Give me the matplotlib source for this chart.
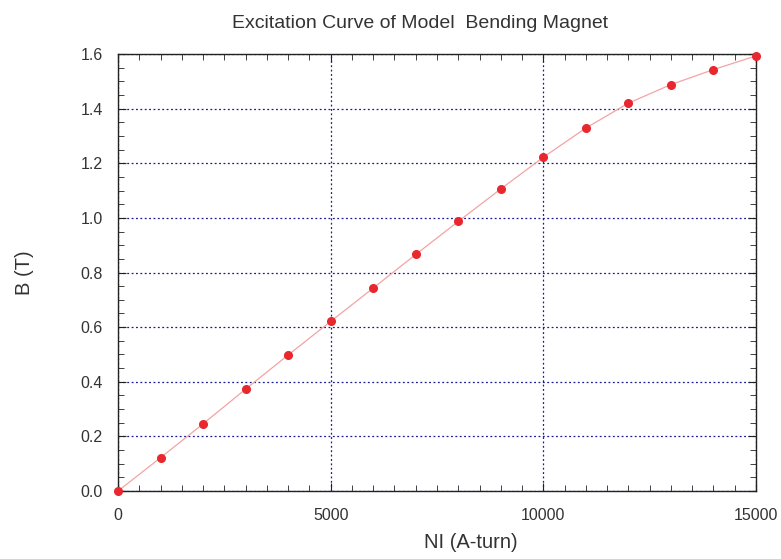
import matplotlib
matplotlib.use("Agg")
import matplotlib.pyplot as plt
from matplotlib.ticker import MultipleLocator

# excitation curve data
ni = [0, 1000, 2000, 3000, 4000, 5000, 6000, 7000, 8000, 9000,
      10000, 11000, 12000, 13000, 14000, 15000]
b_field = [0.0, 0.122, 0.246, 0.373, 0.498, 0.621, 0.743, 0.866, 0.987, 1.106,
           1.222, 1.329, 1.420, 1.488, 1.543, 1.593]

plt.rcParams["font.family"] = ["Liberation Sans", "DejaVu Sans"]

fig = plt.figure(figsize=(7.81, 5.59), dpi=100)
ax = fig.add_axes([0.1511, 0.1216, 0.8169, 0.7818])

ax.plot(ni, b_field, color="#f5a3a3", lw=0.9, zorder=3)
ax.plot(ni, b_field, "o", color="#e8282e", ms=5.5, mec="#e8282e", zorder=4, clip_on=False)

ax.set_xlim(0, 15000)
ax.set_ylim(0, 1.6)
ax.xaxis.set_major_locator(MultipleLocator(5000))
ax.xaxis.set_minor_locator(MultipleLocator(500))
ax.yaxis.set_major_locator(MultipleLocator(0.2))
ax.yaxis.set_minor_locator(MultipleLocator(0.05))
ax.yaxis.set_major_formatter(plt.FuncFormatter(lambda v, p: f"{v:.1f}"))

ax.grid(True, which="major", color="#1a1a99", linestyle=(0, (1.5, 2)), lw=0.9)
ax.tick_params(which="both", direction="in", top=True, right=True, colors="#222222",
               labelcolor="#333333", labelsize=11.5)
ax.tick_params(which="major", length=6)
ax.tick_params(which="minor", length=4)
ax.tick_params(axis="x", which="major", pad=12)
ax.tick_params(axis="y", which="major", pad=11)
for s in ax.spines.values():
    s.set_linewidth(1.0)
    s.set_color("#222222")

ax.set_xlabel("NI (A-turn)", fontsize=14.5, color="#333333", va="center")
ax.xaxis.set_label_coords(0.553, -0.117)
ax.set_ylabel("B (T)", fontsize=14.5, color="#333333", va="center")
ax.yaxis.set_label_coords(-0.147, 0.5)
fig.text(232 / 781, 1 - 28 / 559, "Excitation Curve of Model  Bending Magnet",
         fontsize=14, color="#333333", ha="left", va="baseline")

fig.savefig("out.png", dpi=100)
